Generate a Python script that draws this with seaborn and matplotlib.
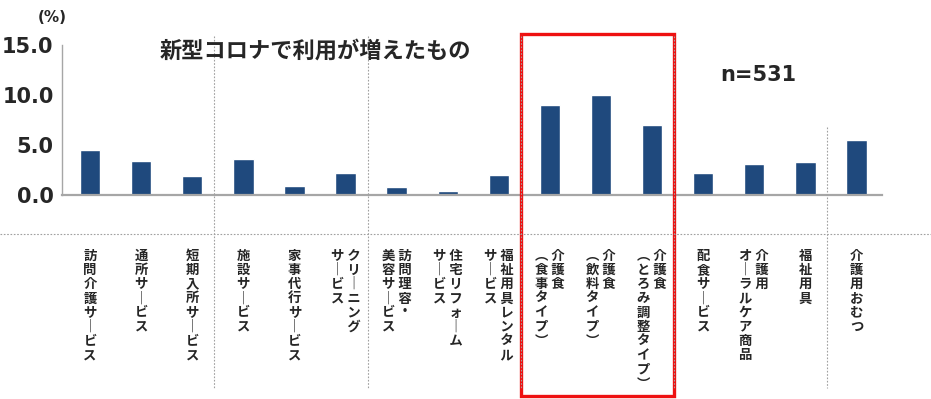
import matplotlib
matplotlib.use("Agg")
import matplotlib.pyplot as plt
import seaborn as sns
import pandas as pd
from matplotlib.transforms import blended_transform_factory
from matplotlib.patches import Rectangle
from matplotlib.lines import Line2D

# ---- data ----
categories = [
    "訪問介護サービス", "通所サービス", "短期入所サービス",
    "施設サービス", "家事代行サービス", "クリーニング\nサービス",
    "訪問理容・\n美容サービス", "住宅リフォーム\nサービス", "福祉用具レンタル\nサービス",
    "介護食\n(食事タイプ)", "介護食\n(飲料タイプ)", "介護食\n(とろみ調整タイプ)",
    "配食サービス", "介護用\nオーラルケア商品", "福祉用具",
    "介護用おむつ",
]
values = [4.5, 3.4, 1.9, 3.6, 0.9, 2.2, 0.8, 0.4, 2.0, 9.0, 10.0, 7.0, 2.2, 3.1, 3.3, 5.5]
yticks = [0, 5, 10, 15]
group_ends = [2, 5, 8, 11]      # separators after these bars (full height)
last_group_end = 14             # shorter separator
highlight = (9, 11)             # red box
title = "新型コロナで利用が増えたもの"
note = "n=531"
unit = "(%)"

sns.set_theme(style="white")
plt.rcParams["font.family"] = ["Noto Sans CJK JP", "DejaVu Sans"]

VMAP = {"ー": "｜", "(": "︵", ")": "︶"}


def to_vertical(label):
    cols = [[VMAP.get(c, c) for c in part] for part in label.split("\n")]
    n = max(len(c) for c in cols)
    rows = []
    for i in range(n):
        cells = [col[i] if i < len(col) else "　" for col in reversed(cols)]
        rows.append(" ".join(cells))
    return "\n".join(rows)


df = pd.DataFrame({"item": categories, "value": values})

W, H = 931, 399
fig = plt.figure(figsize=(W / 100, H / 100), dpi=100)
ax = fig.add_axes([62 / W, 1 - 194.5 / H, 820 / W, 149.5 / H])

sns.barplot(data=df, x="item", y="value", order=categories, color="#1f497d",
            saturation=1, width=0.4, ax=ax)

ax.set_xlim(-0.55, 15.5)
ax.set_ylim(0, 15)
ax.set_yticks(yticks)
ax.set_yticklabels([f"{v:.1f}" for v in yticks], fontsize=15, fontweight="bold",
                   family="DejaVu Sans")
ax.set_xticks(range(len(categories)))
ax.set_xticklabels([to_vertical(c) for c in categories], fontsize=9.6,
                   fontweight="bold", linespacing=1.02)
ax.set_xlabel("")
ax.set_ylabel("")
ax.tick_params(axis="x", length=0, pad=39)
ax.tick_params(axis="y", length=5, width=1, color="#a6a6a6", direction="out", pad=1)
for s in ["top", "right"]:
    ax.spines[s].set_visible(False)
ax.spines["left"].set_color("#a6a6a6")
ax.spines["left"].set_linewidth(1)
ax.spines["bottom"].set_color("#a6a6a6")
ax.spines["bottom"].set_linewidth(1.6)
ax.grid(False)

tr = blended_transform_factory(ax.transData, fig.transFigure)
sep_kw = dict(color="#a0a0a0", linestyle=(0, (1.5, 1.5)), linewidth=0.8)
for g in group_ends:
    fig.add_artist(Line2D([g + 0.43, g + 0.43], [1 - 36 / H, 1 - 388 / H], transform=tr, **sep_kw))
fig.add_artist(Line2D([last_group_end + 0.43] * 2, [1 - 127 / H, 1 - 388 / H], transform=tr, **sep_kw))
fig.add_artist(Line2D([0, 1], [1 - 234 / H, 1 - 234 / H], transform=fig.transFigure, **sep_kw))

box = Rectangle((highlight[0] - 0.57, 1 - 396 / H), (highlight[1] - highlight[0]) + 0.99,
                (396 - 33.5) / H, transform=tr, fill=False, edgecolor="#ee1111",
                linewidth=2.4, clip_on=False)
fig.add_artist(box)

fig.text(315 / W, 1 - 51 / H, title, ha="center", va="center", fontsize=16,
         fontweight="bold")
fig.text(758 / W, 1 - 75 / H, note, ha="center", va="center", fontsize=15,
         fontweight="bold", family="DejaVu Sans")
fig.text(52 / W, 1 - 18 / H, unit, ha="center", va="center", fontsize=11,
         fontweight="bold", family="DejaVu Sans")

fig.savefig("out.png", dpi=100, facecolor="white")
